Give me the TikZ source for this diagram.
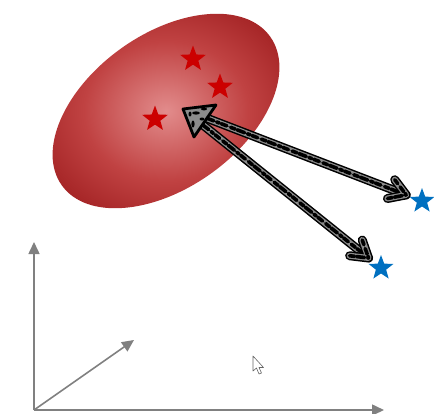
\documentclass[tikz,border=0pt]{standalone}
\usetikzlibrary{shapes.geometric,arrows.meta,calc}
\definecolor{ellin}{RGB}{226,140,140}
\definecolor{ellmid}{RGB}{192,66,66}
\definecolor{ellout}{RGB}{148,18,20}
\definecolor{starred}{RGB}{204,0,0}
\definecolor{starblue}{RGB}{0,112,192}
\definecolor{axisgray}{RGB}{128,128,128}
\definecolor{roughgray}{RGB}{140,140,140}
\pgfdeclareradialshading{ellshade}{\pgfpoint{0bp}{0bp}}{color(0bp)=(ellin); color(16bp)=(ellmid); color(34bp)=(ellout); color(50bp)=(ellout)}
\begin{document}
\begin{tikzpicture}[x=1pt,y=-1pt,
  redstar/.style={star,star points=5,star point ratio=2.4,fill=starred,draw=none,inner sep=0pt,minimum size=27pt},
  bluestar/.style={star,star points=5,star point ratio=2.4,fill=starblue,draw=none,inner sep=0pt,minimum size=26pt},
  rough/.style={line cap=round,line join=round,draw=roughgray,line width=6pt,
    preaction={draw=black,line width=9pt,line cap=round,line join=round},
    postaction={draw=black,line width=3.6pt,dash pattern=on 5pt off 2pt on 8pt off 3pt on 3pt off 2pt on 6pt off 4pt}},
  axisline/.style={draw=axisgray,line width=1.6pt,-{Triangle[length=12pt,width=11pt]}}]
\useasboundingbox (0,0) rectangle (434,413);
% ellipse
\shade[shading=ellshade, shift={(166,111)}, rotate=35.5] (0,0) ellipse (128 and 77);
% stars
\node[redstar] (r1) at (193,59) {};
\node[redstar] (r2) at (220,87) {};
\node[redstar] (r3) at (155,119) {};
\node[bluestar] (b1) at (422,201) {};
\node[bluestar] (b2) at (381,268) {};
% rough arrows
\coordinate (tip) at (183,109);
\coordinate (e1) at ($(b1)!17pt!(tip)$);
\coordinate (e2) at ($(b2)!16pt!(tip)$);
\draw[rough] ($(tip)!18pt!(e1)$) -- (e1);
\draw[rough] ($(tip)!18pt!(e2)$) -- (e2);
\draw[rough] ($(e1)!19pt!32:(tip)$) -- (e1) -- ($(e1)!19pt!-32:(tip)$);
\draw[rough] ($(e2)!19pt!32:(tip)$) -- (e2) -- ($(e2)!19pt!-32:(tip)$);
\filldraw[draw=black, fill=roughgray, line width=2.8pt, line join=round] (tip) -- (216,105) -- (194,137) -- cycle;
\fill[black] (196,113) ellipse (4 and 1.6);
\fill[black] (204,109) ellipse (3 and 1.4);
\fill[black] (193,124) ellipse (1.6 and 3.5);
\fill[black] (202,119) ellipse (2.5 and 1.5);
\fill[black] (190,114) ellipse (1.5 and 2.5);
% axes
\coordinate (o) at (34,410);
\coordinate (ya) at (34,242);
\coordinate (xa) at (384,410);
\coordinate (da) at (134,340);
\draw[axisline] (o) -- (ya);
\draw[axisline] (o) -- (xa);
\draw[axisline] (o) -- (da);
% cursor
\filldraw[fill=white, draw=gray!80!black, line width=0.6pt, line join=round] (253,356) -- (253,371) -- (256.5,368) -- (259,374) -- (261.5,373) -- (259,367.5) -- (263.5,367.5) -- cycle;
\end{tikzpicture}
\end{document}
